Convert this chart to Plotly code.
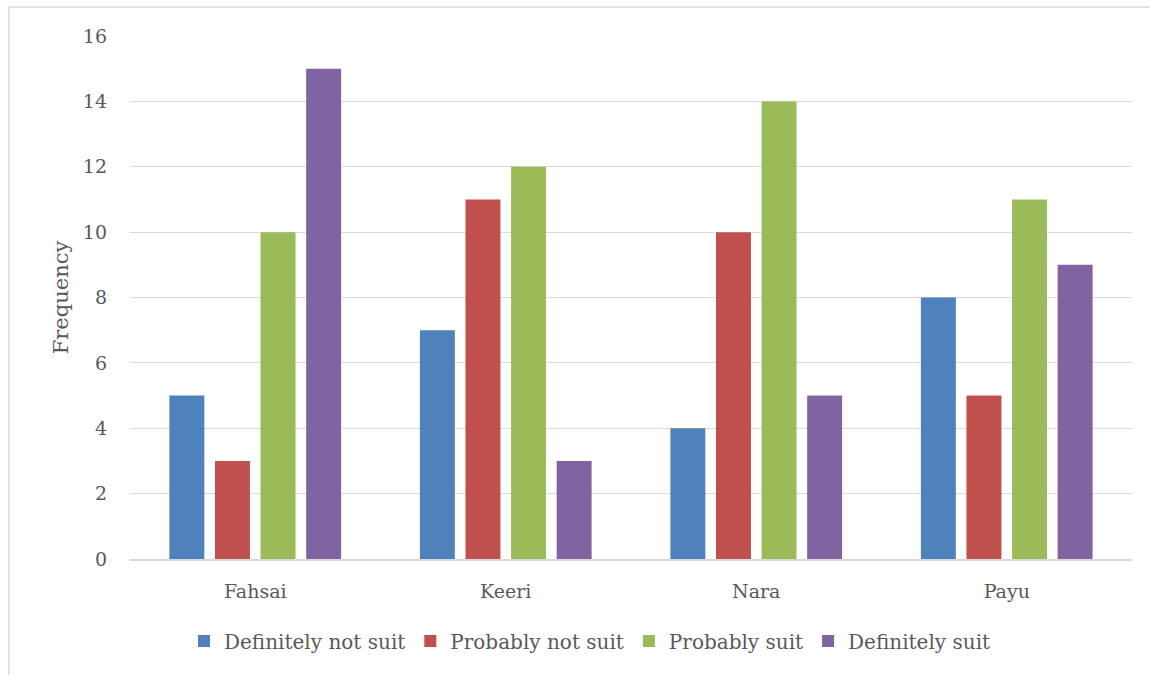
import plotly.graph_objects as go

categories = ["Fahsai", "Keeri", "Nara", "Payu"]
series_names = ["Definitely not suit", "Probably not suit", "Probably suit", "Definitely suit"]
definitely_not = [5, 7, 4, 8]
probably_not = [3, 11, 10, 5]
probably = [10, 12, 14, 11]
definitely = [15, 3, 5, 9]
colors = ["#4F81BD", "#C0504D", "#9BBB59", "#8064A2"]
y_ticks = [0, 2, 4, 6, 8, 10, 12, 14, 16]

FONT = "DejaVu Serif"
TXT = "#595959"

fig = go.Figure()
for name, vals, col in zip(series_names, [definitely_not, probably_not, probably, definitely], colors):
    fig.add_trace(go.Bar(x=categories, y=vals, name=name, marker=dict(color=col, line=dict(width=0))))

L, R, T, B = 130, 18, 36, 116
W, H = 1150, 675
pw = W - L - R
ph = H - T - B

def px_x(p):
    return (p - L) / pw

def px_y(p):
    return (H - B - p) / ph

fig.update_layout(
    width=W, height=H,
    margin=dict(l=L, r=R, t=T, b=B),
    paper_bgcolor="white", plot_bgcolor="white",
    barmode="group", bargap=0.272, bargroupgap=0.233,
    font=dict(family=FONT, size=19, color=TXT),
    xaxis=dict(showgrid=False, showline=True, linecolor="#D9D9D9", linewidth=1.5,
               ticks="", tickfont=dict(size=19, color=TXT), ticklabelstandoff=14),
    yaxis=dict(range=[0, 16], tickvals=y_ticks, showgrid=True, gridcolor="#D9D9D9", gridwidth=1.2,
               zeroline=False, showline=False, ticks="", tickfont=dict(size=19, color=TXT),
               ticklabelstandoff=22,
               title=dict(text="Frequency", font=dict(size=21, color=TXT), standoff=8)),
    legend=dict(orientation="h", x=px_x(590), xanchor="center", y=px_y(641), yanchor="middle",
                font=dict(size=20, color=TXT), itemwidth=30, traceorder="normal"),
    showlegend=True,
    shapes=[
        dict(type="line", xref="paper", yref="paper", x0=px_x(9), x1=px_x(1150), y0=px_y(7), y1=px_y(7),
             line=dict(color="#D9D9D9", width=1.5)),
        dict(type="line", xref="paper", yref="paper", x0=px_x(9), x1=px_x(9), y0=px_y(7), y1=px_y(675),
             line=dict(color="#D9D9D9", width=1.5)),
    ],
)

fig.write_html("out.html", config={"displayModeBar": False},
               post_script="document.body.style.margin='0';")
